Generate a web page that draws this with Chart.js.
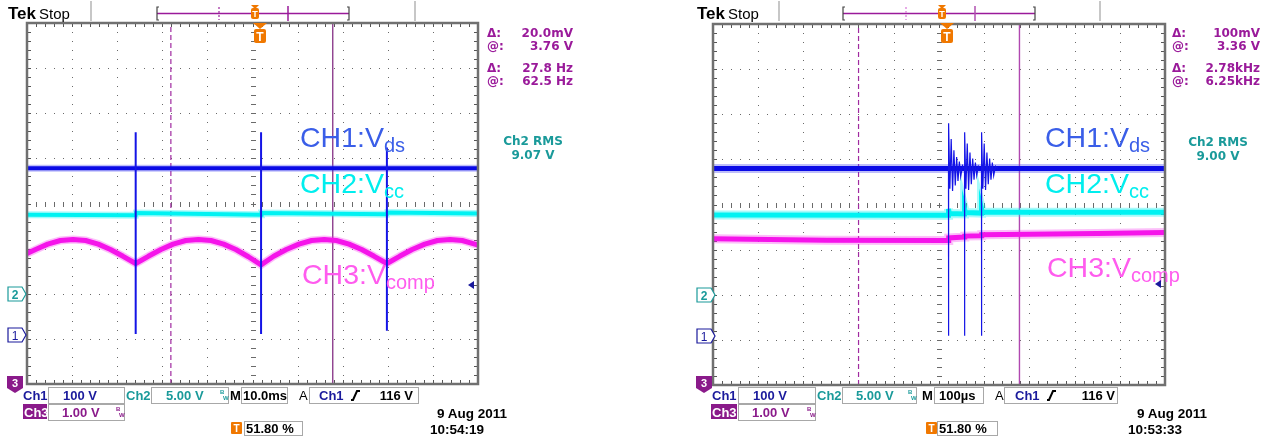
<!DOCTYPE html>
<html>
<head>
<meta charset="utf-8">
<script src="https://cdn.jsdelivr.net/npm/chart.js@4"></script>
<style>
  body { margin: 0; background: #fff; width: 1273px; height: 438px; overflow: hidden; position: relative; }
  canvas { position: absolute; z-index: 1; }
  #overlay { position: absolute; left: 0; top: 0; z-index: 2; pointer-events: none; }
</style>
</head>
<body>
<canvas id="scopeL" width="457" height="367" style="left:24px;top:20px"></canvas>
<canvas id="scopeR" width="458" height="367" style="left:710px;top:21px"></canvas>
<svg id="overlay" width="1273" height="438"></svg>
<script>
// all values in screen divisions: x 0..10, y -4..4 (0 = centre line)

// left shot, 10.0ms/div
const leftCh1X = [0, 10];
const leftCh1Y = [0.78, 0.78];
const leftSpikeX = [2.41, 5.19, 7.98];
const leftSpikeTop = [1.58, 1.58, 1.24];
const leftSpikeBottom = [-2.89, -2.89, -2.82];
const leftCh2X = [0, 2.41, 2.42, 5.19, 5.2, 7.98, 7.99, 10];
const leftCh2Y = [-0.25, -0.26, -0.21, -0.25, -0.21, -0.24, -0.2, -0.22];
const leftCh3X = [0, 0.19, 0.46, 0.74, 1.02, 1.3, 1.58, 1.85, 2.13, 2.41,
  2.69, 2.97, 3.24, 3.52, 3.8, 4.08, 4.36, 4.63, 4.91, 5.19,
  5.47, 5.75, 6.03, 6.31, 6.59, 6.86, 7.14, 7.42, 7.7, 7.98,
  8.26, 8.54, 8.82, 9.1, 9.38, 9.65, 9.93, 10];
const leftCh3Y = [-1.11, -1.02, -0.9, -0.82, -0.8, -0.82, -0.9, -1.02, -1.17, -1.33,
  -1.17, -1.02, -0.9, -0.82, -0.8, -0.82, -0.9, -1.02, -1.18, -1.36,
  -1.17, -1.02, -0.9, -0.82, -0.8, -0.82, -0.9, -1.02, -1.17, -1.33,
  -1.17, -1.02, -0.9, -0.82, -0.8, -0.82, -0.9, -0.92];
const leftCursorX = [3.19, 6.78];

// right shot, 100us/div
const rightCh1X = [0, 10];
const rightCh1Y = [0.8, 0.8];
const ring1X = [5.21, 5.21, 5.215, 5.24, 5.27, 5.3, 5.33, 5.36, 5.39, 5.42, 5.45, 5.48, 5.52, 5.55];
const ring1Y = [0.8, -2.91, 1.8, 0.35, 1.45, 0.3, 1.2, 0.42, 1.05, 0.52, 0.95, 0.62, 0.86, 0.8];
const ring2X = [5.565, 5.565, 5.57, 5.595, 5.625, 5.655, 5.685, 5.715, 5.745, 5.775, 5.805, 5.835, 5.87, 5.9];
const ring2Y = [0.8, -2.91, 1.6, 0.35, 1.35, 0.32, 1.15, 0.45, 1.02, 0.55, 0.93, 0.64, 0.85, 0.8];
const ring3X = [5.94, 5.94, 5.945, 5.97, 6.0, 6.03, 6.06, 6.09, 6.12, 6.15, 6.18, 6.21, 6.25, 6.3];
const ring3Y = [0.8, -2.91, 1.6, 0.35, 1.35, 0.32, 1.15, 0.45, 1.02, 0.55, 0.93, 0.64, 0.85, 0.8];
const rightCh2X = [0, 5.21, 5.21, 5.23, 5.565, 5.565, 5.585, 5.94, 5.94, 5.96, 10];
const rightCh2Y = [-0.23, -0.24, -0.1, -0.2, -0.21, -0.1, -0.18, -0.19, -0.09, -0.17, -0.17];
const rightCh3X = [0, 2.5, 5.21, 5.215, 5.565, 5.57, 5.94, 5.945, 7.0, 8.5, 10];
const rightCh3Y = [-0.76, -0.79, -0.8, -0.74, -0.72, -0.7, -0.69, -0.67, -0.66, -0.64, -0.62];
const rightDipX = [5.21, 5.94];
const rightDipBottom = [-1.15, -1.1];
const rightCursorX = [3.22, 6.78];

function pts(xs, ys) {
  return xs.map((x, i) => ({ x: x, y: ys[i] }));
}
function spikes(xs, tops, bottoms) {
  const out = [];
  xs.forEach((x, i) => { out.push({ x: x, y: tops[i] }, { x: x, y: bottoms[i] }, { x: x, y: null }); });
  return out;
}
function joinRuns(runs) {
  const out = [];
  runs.forEach(r => { out.push(...r, { x: r[r.length - 1].x, y: null }); });
  return out;
}
function line(data, color, width, extra) {
  return Object.assign({ data: data, borderColor: color, borderWidth: width, showLine: true,
    pointRadius: 0, fill: false, tension: 0, spanGaps: false, clip: 0 }, extra || {});
}

// dotted Tek graticule
const scopeGrid = {
  id: 'scopeGrid',
  beforeDatasetsDraw(chart) {
    const { ctx, chartArea: a, scales: { x, y } } = chart;
    ctx.save();
    ctx.fillStyle = '#6a6a6a';
    for (let i = 1; i < 10; i++) {
      const px = Math.round(x.getPixelForValue(i));
      for (let k = 1; k < 40; k++) {
        const py = Math.round(y.getPixelForValue(-4 + k * 0.2));
        if (i === 5) ctx.fillRect(px - 2, py, 5, 1); else ctx.fillRect(px, py, 1, 1);
      }
    }
    for (let j = -3; j <= 3; j++) {
      const py = Math.round(y.getPixelForValue(j));
      for (let k = 1; k < 50; k++) {
        const px = Math.round(x.getPixelForValue(k * 0.2));
        if (j === 0) ctx.fillRect(px, py - 2, 1, 5); else ctx.fillRect(px, py, 1, 1);
      }
    }
    ctx.fillStyle = '#555';
    for (let k = 1; k < 50; k++) {
      const px = Math.round(x.getPixelForValue(k * 0.2));
      ctx.fillRect(px, a.top, 1, 4);
      ctx.fillRect(px, a.bottom - 4, 1, 4);
    }
    for (let k = 1; k < 40; k++) {
      const py = Math.round(y.getPixelForValue(-4 + k * 0.2));
      ctx.fillRect(a.left, py, 4, 1);
      ctx.fillRect(a.right - 4, py, 4, 1);
    }
    ctx.restore();
  },
  afterDatasetsDraw(chart) {
    const { ctx, chartArea: a } = chart;
    ctx.save();
    ctx.strokeStyle = '#707070';
    ctx.lineWidth = 2.5;
    ctx.strokeRect(a.left, a.top, a.right - a.left, a.bottom - a.top);
    ctx.restore();
  }
};

function makeScope(id, datasets) {
  new Chart(document.getElementById(id), {
    type: 'scatter',
    data: { datasets: datasets },
    options: {
      responsive: false,
      animation: false,
      layout: { padding: 3 },
      plugins: { legend: { display: false }, tooltip: { enabled: false } },
      scales: {
        x: { type: 'linear', min: 0, max: 10, display: false },
        y: { type: 'linear', min: -4, max: 4, display: false }
      }
    },
    plugins: [scopeGrid]
  });
}

makeScope('scopeL', [
  line(spikes(leftSpikeX, leftSpikeTop, leftSpikeBottom), '#1414e6', 2),
  line(pts(leftCh1X, leftCh1Y), '#0a0ae6', 4),
  line(pts(leftCh1X, leftCh1Y), 'rgba(70,70,240,0.35)', 7),
  line(pts(leftCh2X, leftCh2Y), '#00f2f2', 4),
  line(pts(leftCh2X, leftCh2Y), 'rgba(0,240,240,0.35)', 7),
  line(pts(leftCh3X, leftCh3Y), '#f514ea', 5, { borderJoinStyle: 'round' }),
  line(pts(leftCh3X, leftCh3Y), 'rgba(245,40,235,0.3)', 8),
  line([{ x: leftCursorX[0], y: -4 }, { x: leftCursorX[0], y: 4 }], '#a02aa0', 1.2, { borderDash: [5, 3] }),
  line([{ x: leftCursorX[1], y: -4 }, { x: leftCursorX[1], y: 4 }], '#7a1e7a', 1.2)
]);

makeScope('scopeR', [
  line(joinRuns([pts(ring1X, ring1Y), pts(ring2X, ring2Y), pts(ring3X, ring3Y)]), '#1414e6', 1.2),
  line(pts(rightCh1X, rightCh1Y), '#0a0ae6', 5),
  line(pts(rightCh1X, rightCh1Y), 'rgba(70,70,240,0.35)', 9),
  line(pts(rightCh2X, rightCh2Y), '#00f2f2', 5),
  line(pts(rightCh2X, rightCh2Y), 'rgba(0,240,240,0.35)', 9),
  line(spikes(rightDipX, [-0.75, -0.68], rightDipBottom), '#ff80f4', 1.2),
  line(pts(rightCh3X, rightCh3Y), '#f514ea', 5),
  line(pts(rightCh3X, rightCh3Y), 'rgba(245,40,235,0.3)', 9),
  line([{ x: rightCursorX[0], y: -4 }, { x: rightCursorX[0], y: 4 }], '#a02aa0', 1.2, { borderDash: [5, 3] }),
  line([{ x: rightCursorX[1], y: -4 }, { x: rightCursorX[1], y: 4 }], '#b048b0', 1.4)
]);

// ---- scope frame text and markers (overlay) ----
let svg = '';
const BLUE = '#1a1a9c', TEAL = '#1a9a9a', PURP = '#9a1a9a', ORANGE = '#f07800';
function T(x, y, s, o) {
  o = o || {};
  svg += `<text x="${x}" y="${y}" font-family="${o.f || 'Liberation Sans'}" font-size="${o.s || 13}" font-weight="${o.w || 'bold'}" fill="${o.c || '#000'}" text-anchor="${o.a || 'start'}">${s}</text>`;
}
function R(x, y, w, h, fill, stroke, rx) {
  svg += `<rect x="${x}" y="${y}" width="${w}" height="${h}" fill="${fill || 'none'}" stroke="${stroke || 'none'}" rx="${rx || 0}"/>`;
}
function L(x1, y1, x2, y2, c, w, dash) {
  svg += `<line x1="${x1}" y1="${y1}" x2="${x2}" y2="${y2}" stroke="${c}" stroke-width="${w || 1}"${dash ? ` stroke-dasharray="${dash}"` : ''}/>`;
}
function P(d, fill, stroke, w) {
  svg += `<path d="${d}" fill="${fill || 'none'}" stroke="${stroke || 'none'}" stroke-width="${w || 1}"/>`;
}
const RD = { f: 'DejaVu Sans', s: 12, c: PURP };

function frame(p) {
  // top line
  T(p.tekX, 19, 'Tek', { s: 17 });
  T(p.tekX + 31, 19, 'Stop', { s: 15, w: 'normal' });
  L(p.grayA, 1, p.grayA, 21, '#b4b4b4', 1.5);
  L(p.grayB, 1, p.grayB, 21, '#b4b4b4', 1.5);
  L(p.barL, 13.5, p.barR, 13.5, PURP, 1.5);
  P(`M${p.barL + 2},7 H${p.barL} V20 H${p.barL + 2}`, 'none', '#444', 1.2);
  P(`M${p.barR - 2},7 H${p.barR} V20 H${p.barR - 2}`, 'none', '#444', 1.2);
  L(p.dashMark, 7, p.dashMark, 20, p.dashCol, 1.5, '2,2');
  L(p.solidMark, 6, p.solidMark, 21, p.solidCol, 1.5);
  P(`M${p.tTop - 4},5 H${p.tTop + 4} L${p.tTop},9 Z`, ORANGE);
  R(p.tTop - 4, 8, 8, 11, ORANGE, 'none', 2);
  T(p.tTop, 17, 'T', { s: 9, c: '#fff' , a: 'middle' });
  P(`M${p.tLow - 7},23 H${p.tLow + 7} L${p.tLow},29 Z`, ORANGE);
  R(p.tLow - 6, 29, 12, 14, ORANGE, 'none', 2);
  T(p.tLow, 41, 'T', { s: 12, c: '#fff', a: 'middle' });

  // cursor readouts
  const rows = [37, 50, 72, 85];
  ['Δ:', '@:', 'Δ:', '@:'].forEach((s, i) => T(p.readX, rows[i], s, RD));
  p.reads.forEach((s, i) => T(p.readEnd, rows[i], s, Object.assign({}, RD, { a: 'end' })));
  T(p.rmsX, p.rmsY, 'Ch2 RMS', { f: 'DejaVu Sans', s: 12, c: TEAL, a: 'middle' });
  T(p.rmsX, p.rmsY + 14, p.rms, { f: 'DejaVu Sans', s: 12, c: TEAL, a: 'middle' });

  // channel labels on the screen
  const lab = (x, y, main, sub, col) => {
    svg += `<text x="${x}" y="${y}" font-family="Liberation Sans" font-size="28.5" fill="${col}">${main}<tspan font-size="20" dy="5">${sub}</tspan></text>`;
  };
  lab(p.labX, p.lab[0], 'CH1:V', 'ds', '#3a5ee8');
  lab(p.labX, p.lab[1], 'CH2:V', 'cc', '#00eeee');
  lab(p.labX + 2, p.lab[2], 'CH3:V', 'comp', '#ff5cee');

  // ground markers and trigger level
  const g = p.gnd;
  P(`M${g},${p.g2} h14 l4,7 l-4,7 h-14 Z`, '#fff', TEAL, 1.2);
  T(g + 7, p.g2 + 12, '2', { s: 12, c: TEAL, a: 'middle' });
  P(`M${g},${p.g1} h14 l4,7 l-4,7 h-14 Z`, '#fff', BLUE, 1.2);
  T(g + 7, p.g1 + 12, '1', { s: 12, c: BLUE, a: 'middle', w: 'normal' });
  P(`M${p.trig[0] - 3},${p.trig[1]} l6,-4 v8 Z`, BLUE);

  // status bar
  P(`M${p.badge},376 h16 v12 l-8,5 l-8,-5 Z`, '#8a1a8a');
  T(p.badge + 8, 387, '3', { s: 11, c: '#fff', a: 'middle' });
  T(p.ch1, 400, 'Ch1', { c: BLUE });
  R(p.b1[0] + 0.5, 387.5, p.b1[1] - p.b1[0], 16, 'none', '#a8a8a8');
  T(p.v1x, 400, '100 V', { c: BLUE });
  T(p.ch2, 400, 'Ch2', { c: TEAL });
  R(p.b2[0] + 0.5, 387.5, p.b2[1] - p.b2[0], 16, 'none', '#a8a8a8');
  T(p.v2x, 400, '5.00 V', { c: TEAL });
  T(p.b2[1] - 8, 394, 'B', { s: 6, c: TEAL });
  T(p.b2[1] - 5, 400, 'W', { s: 6, c: TEAL });
  T(p.m, 400, 'M');
  R(p.bm[0] + 0.5, 387.5, p.bm[1] - p.bm[0], 16, 'none', '#a8a8a8');
  T(p.mx, 400, p.tb);
  T(p.a, 400, 'A', { w: 'normal' });
  R(p.ba[0] + 0.5, 387.5, p.ba[1] - p.ba[0], 16, 'none', '#a8a8a8');
  T(p.aCh, 400, 'Ch1', { c: BLUE });
  P(`M${p.edge},400 h2 l4,-9 h3`, 'none', '#000', 2);
  T(p.aEnd, 400, '116 V', { a: 'end' });
  R(p.c3[0], 404, p.c3[1] - p.c3[0], 15, '#8a1a8a');
  T(p.c3[0] + 1, 417, 'Ch3', { c: '#fff' });
  R(p.b1[0] + 0.5, 404.5, p.b1[1] - p.b1[0], 16, 'none', '#a8a8a8');
  T(p.v3x, 417, '1.00 V', { c: '#8a1a8a' });
  T(p.b1[1] - 8, 411, 'B', { s: 6, c: '#8a1a8a' });
  T(p.b1[1] - 5, 417, 'W', { s: 6, c: '#8a1a8a' });
  R(p.tBox, 422, 11, 12, ORANGE, 'none', 1);
  T(p.tBox + 5.5, 432, 'T', { s: 10, c: '#fff', a: 'middle' });
  R(p.bt[0] + 0.5, 421.5, p.bt[1] - p.bt[0], 14, 'none', '#a8a8a8');
  T(p.bt[0] + 2, 433, '51.80 %');
  T(p.dateEnd, 418, p.date, { a: 'end', s: 13.5 });
  T(p.timeX, 434, p.time, { s: 13.5 });
}

frame({
  tekX: 8, grayA: 91, grayB: 415, barL: 157, barR: 349, dashMark: 219, solidMark: 288,
  dashCol: '#b050b0', solidCol: PURP, tTop: 255, tLow: 260,
  readX: 487, readEnd: 573, reads: ['20.0mV', '3.76 V', '27.8 Hz', '62.5 Hz'], rmsX: 533, rmsY: 145, rms: '9.07 V',
  labX: 300, lab: [147, 193, 284],
  gnd: 8, g2: 287, g1: 328, trig: [471, 285],
  badge: 7, ch1: 23, b1: [48, 124], v1x: 63, ch2: 126, b2: [151, 228], v2x: 166,
  m: 230, bm: [241, 287], mx: 243, tb: '10.0ms', a: 299, ba: [309, 418], aCh: 319, edge: 351, aEnd: 413,
  c3: [23, 47], v3x: 62, tBox: 231, bt: [244, 302], dateEnd: 507, date: '9 Aug 2011', timeX: 430, time: '10:54:19'
});
frame({
  tekX: 697, grayA: 779, grayB: 1100, barL: 843, barR: 1035, dashMark: 906, solidMark: 975,
  dashCol: '#e090e0', solidCol: '#b050b0', tTop: 942, tLow: 947,
  readX: 1172, readEnd: 1260, reads: ['100mV', '3.36 V', '2.78kHz', '6.25kHz'], rmsX: 1218, rmsY: 146, rms: '9.00 V',
  labX: 1045, lab: [147, 193, 277],
  gnd: 697, g2: 288, g1: 329, trig: [1158, 284],
  badge: 696, ch1: 712, b1: [738, 815], v1x: 753, ch2: 817, b2: [842, 916], v2x: 856,
  m: 922, bm: [934, 983], mx: 939, tb: '100µs', a: 995, ba: [1004, 1117], aCh: 1015, edge: 1047, aEnd: 1115,
  c3: [711, 737], v3x: 752, tBox: 926, bt: [937, 997], dateEnd: 1207, date: '9 Aug 2011', timeX: 1128, time: '10:53:33'
});
document.getElementById('overlay').innerHTML = svg;
</script>
</body>
</html>
